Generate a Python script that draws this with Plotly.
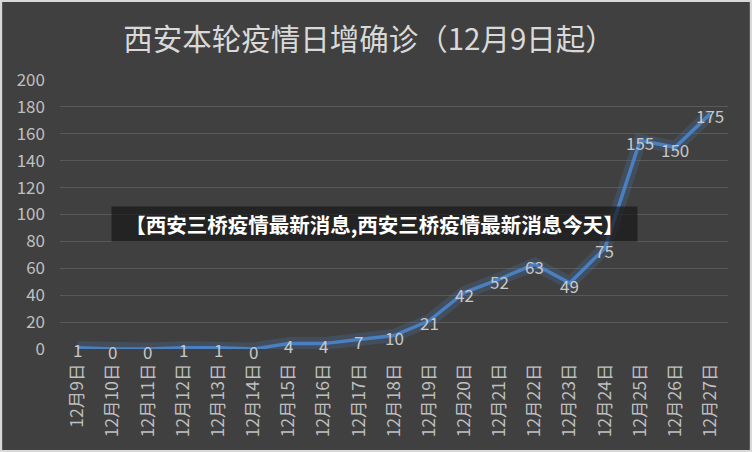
import plotly.graph_objects as go

dates = ["12月9日", "12月10日", "12月11日", "12月12日", "12月13日", "12月14日", "12月15日",
         "12月16日", "12月17日", "12月18日", "12月19日", "12月20日", "12月21日", "12月22日",
         "12月23日", "12月24日", "12月25日", "12月26日", "12月27日"]
cases = [1, 0, 0, 1, 1, 0, 4, 4, 7, 10, 21, 42, 52, 63, 49, 75, 155, 150, 175]
y_ticks = [0, 20, 40, 60, 80, 100, 120, 140, 160, 180, 200]

title_text = "西安本轮疫情日增确诊（12月9日起）"
banner_text = "【西安三桥疫情最新消息,西安三桥疫情最新消息今天】"

W, H = 752, 452
L, R, T, B = 60, 24, 80, 103
pw, ph = W - L - R, H - T - B

font = "Noto Sans CJK SC, Microsoft YaHei, sans-serif"

fig = go.Figure()
# glow
fig.add_trace(go.Scatter(x=dates, y=cases, mode="lines",
                         line=dict(color="rgba(79,129,189,0.22)", width=13),
                         hoverinfo="skip", showlegend=False))
fig.add_trace(go.Scatter(x=dates, y=cases, mode="lines",
                         line=dict(color="#4a7fc1", width=3.5),
                         showlegend=False))

label_anns = [dict(x=d, y=v, xref="x", yref="y", text=str(v), showarrow=False,
                   yshift=-2, borderpad=0,
                   font=dict(family=font, size=17, color="#c8c8c8"))
              for d, v in zip(dates, cases)]

fig.update_layout(
    width=W, height=H,
    margin=dict(l=L, r=R, t=T, b=B, autoexpand=False),
    paper_bgcolor="#404040", plot_bgcolor="#404040",
    title=dict(text=title_text, x=369 / W, xref="container", xanchor="center",
               y=1 - 40 / H, yanchor="middle",
               font=dict(family=font, size=29.5, color="#d9d9d9")),
    xaxis=dict(type="category", range=[-0.5, len(dates) - 0.5], tickangle=-90,
               showgrid=False, zeroline=False,
               tickfont=dict(family=font, size=17.5, color="#bfbfbf"), ticks="",
               showline=False, ticklabelstandoff=10),
    yaxis=dict(range=[0, 200], tickvals=y_ticks, showgrid=True, gridcolor="#595959",
               gridwidth=1, zeroline=False, ticks="", ticklabelstandoff=14,
               tickfont=dict(family=font, size=17, color="#bfbfbf")),
    shapes=[dict(type="rect", xref="paper", yref="paper",
                 x0=-L / pw + 0.001, x1=1 + R / pw - 0.001, y0=-B / ph + 0.002, y1=1 + T / ph - 0.002,
                 line=dict(color="#d9d9d9", width=3), layer="above")],
    annotations=label_anns + [dict(text="<b>" + banner_text + "</b>", xref="paper", yref="paper",
                      x=(374.5 - L) / pw, y=(349 - 223.5) / ph, showarrow=False,
                      font=dict(family=font, size=20.5, color="#ffffff"),
                      bgcolor="rgba(20,20,20,0.65)", borderpad=0, width=525, height=34)],
)

fig.write_html("out.html")
